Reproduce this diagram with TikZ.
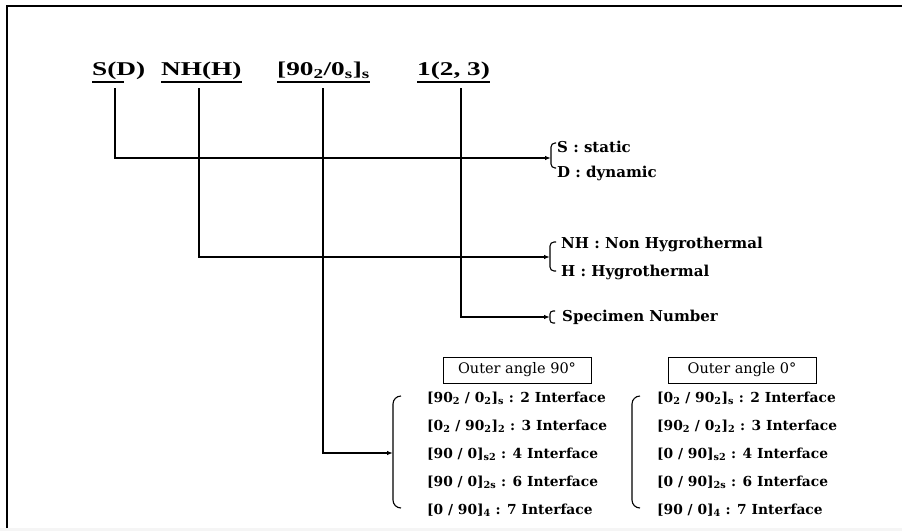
\documentclass[tikz,border=0pt]{standalone}
\usepackage{fontspec}
\usetikzlibrary{arrows.meta}
\newfontfamily\topfont{Liberation Serif}[FakeStretch=1.4]
\newfontfamily\txtfont{DejaVu Serif}
\begin{document}
\begin{tikzpicture}[x=1pt,y=-1pt,
  toplbl/.style={inner sep=0pt, anchor=base west, font=\topfont\bfseries\fontsize{19.5}{21}\selectfont},
  brlbl/.style={inner sep=0pt, anchor=base west, font=\txtfont\bfseries\fontsize{15}{17}\selectfont},
  rowlbl/.style={inner sep=0pt, anchor=base west, font=\txtfont\bfseries\fontsize{13.8}{15}\selectfont},
  anglebox/.style={draw, line width=0.8pt, minimum width=148pt, minimum height=26pt, inner sep=0pt, font=\txtfont\fontsize{14.5}{16}\selectfont},
  uline/.style={line width=1.2pt},
  conn/.style={line width=1.3pt, -{Latex[length=6pt,width=4.5pt]}},
  brk/.style={line width=1.1pt, rounded corners=4pt},
  bigbrk/.style={line width=1.1pt, rounded corners=8pt}]
\useasboundingbox (0,0) rectangle (902,531);
% frame
\fill[gray!8] (0,528) rectangle (902,531);
\draw[line width=1.8pt] (7,528) -- (7,6) -- (902,6);
% top labels
\node[toplbl] (sd) at (92,75) {S(D)};
\node[toplbl] (nh) at (161,75) {NH(H)};
\node[toplbl] (ly) at (277,75) {[90\textsubscript{2}/0\textsubscript{s}]\textsubscript{s}};
\node[toplbl] (sp) at (417,75) {1(2, 3)};
\draw[uline] (92,82) -- (124,82);
\draw[uline] ([yshift=-7pt]nh.base west) -- ([yshift=-7pt]nh.base east);
\draw[uline] ([yshift=-7pt]ly.base west) -- ([yshift=-7pt]ly.base east);
\draw[uline] ([yshift=-7pt]sp.base west) -- ([yshift=-7pt]sp.base east);
% connector start points
\coordinate (sdU) at (115,88);
\coordinate (nhU) at (199,88);
\coordinate (lyU) at (323,88);
\coordinate (spU) at (461,88);
% bracket targets
\coordinate (sBr) at (551,158);
\coordinate (nhBr) at (550,257);
\coordinate (spBr) at (550,317);
\coordinate (lyBr) at (393,453);
% brackets
\draw[brk] (556,143) -- (551,143) -- (551,168) -- (556,168);
\draw[brk] (556,242) -- (550,242) -- (550,271) -- (556,271);
\draw[brk, rounded corners=3pt] (555,311) -- (550,311) -- (550,323) -- (555,323);
\draw[bigbrk] (401,396) -- (393,396) -- (393,508) -- (401,508);
\draw[bigbrk] (640,396) -- (632,396) -- (632,508) -- (640,508);
% connectors
\draw[conn] (sdU) |- (sBr);
\draw[conn] (nhU) |- (nhBr);
\draw[conn] (spU) |- (spBr);
\draw[conn] (lyU) |- (lyBr);
% bracket labels
\node[brlbl] (ss) at (557,152) {S : static};
\node[brlbl] (dd) at (557,177) {D : dynamic};
\node[brlbl] (nn) at (561,248) {NH : Non Hygrothermal};
\node[brlbl] (hh) at (561,276) {H : Hygrothermal};
\node[brlbl] (sn) at (562,321) {Specimen Number};
% angle boxes
\node[anglebox] (b90) at (517,370) {Outer angle 90°};
\node[anglebox] (b0) at (742,370) {Outer angle 0°};
% rows left
\node[rowlbl] (l1) at (427,402) {[90\textsubscript{2} / 0\textsubscript{2}]\textsubscript{s} : 2 Interface};
\node[rowlbl] (l2) at (427,430) {[0\textsubscript{2} / 90\textsubscript{2}]\textsubscript{2} : 3 Interface};
\node[rowlbl] (l3) at (427,458) {[90 / 0]\textsubscript{s2} : 4 Interface};
\node[rowlbl] (l4) at (427,486) {[90 / 0]\textsubscript{2s} : 6 Interface};
\node[rowlbl] (l5) at (427,514) {[0 / 90]\textsubscript{4} : 7 Interface};
% rows right
\node[rowlbl] (r1) at (657,402) {[0\textsubscript{2} / 90\textsubscript{2}]\textsubscript{s} : 2 Interface};
\node[rowlbl] (r2) at (657,430) {[90\textsubscript{2} / 0\textsubscript{2}]\textsubscript{2} : 3 Interface};
\node[rowlbl] (r3) at (657,458) {[0 / 90]\textsubscript{s2} : 4 Interface};
\node[rowlbl] (r4) at (657,486) {[0 / 90]\textsubscript{2s} : 6 Interface};
\node[rowlbl] (r5) at (657,514) {[90 / 0]\textsubscript{4} : 7 Interface};
\end{tikzpicture}
\end{document}
